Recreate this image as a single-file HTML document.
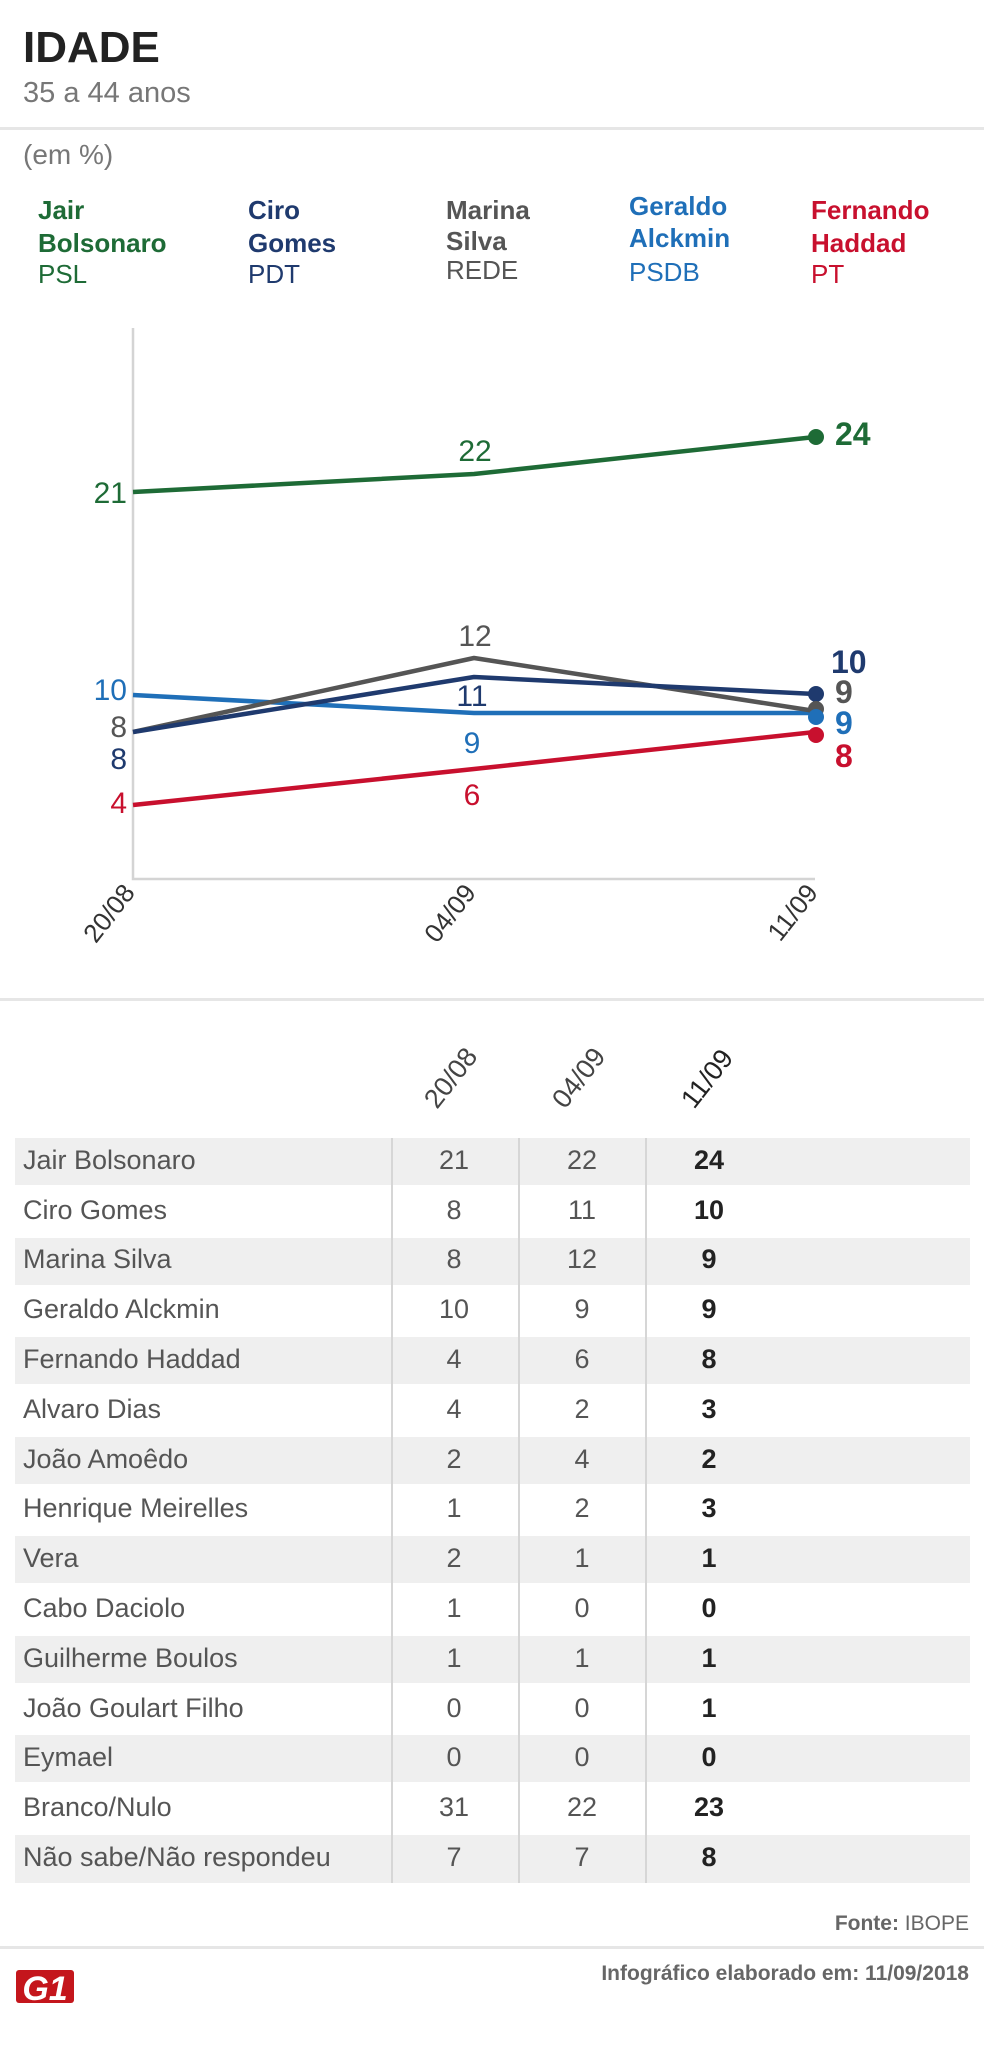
<!DOCTYPE html>
<html><head><meta charset="utf-8"><style>
body{margin:0;background:#fff}
svg{display:block;font-family:"Liberation Sans",sans-serif}
</style></head><body>
<svg width="984" height="2057" viewBox="0 0 984 2057" xmlns="http://www.w3.org/2000/svg">
<rect width="984" height="2057" fill="#fff"/>
<text x="23" y="62" font-size="44" font-weight="bold" fill="#222">IDADE</text>
<text x="23" y="102" font-size="29" fill="#777">35 a 44 anos</text>
<rect x="0" y="127" width="984" height="3" fill="#e6e6e6"/>
<text x="23" y="164" font-size="28" fill="#777">(em %)</text>
<g font-size="26" font-weight="bold">
<text x="38" y="219" fill="#1e6b36">Jair</text><text x="38" y="252" fill="#1e6b36">Bolsonaro</text>
<text x="248" y="219" fill="#1f3a6e">Ciro</text><text x="248" y="252" fill="#1f3a6e">Gomes</text>
<text x="446" y="219" fill="#555">Marina</text><text x="446" y="250" fill="#555">Silva</text>
<text x="629" y="215" fill="#1f6fb8">Geraldo</text><text x="629" y="247" fill="#1f6fb8">Alckmin</text>
<text x="811" y="219" fill="#c8102e">Fernando</text><text x="811" y="252" fill="#c8102e">Haddad</text>
</g>
<g font-size="26">
<text x="38" y="283" fill="#1e6b36">PSL</text>
<text x="248" y="283" fill="#1f3a6e">PDT</text>
<text x="446" y="279" fill="#555">REDE</text>
<text x="629" y="281" fill="#1f6fb8">PSDB</text>
<text x="811" y="283" fill="#c8102e">PT</text>
</g>
<path d="M133 328 V879 H815" fill="none" stroke="#d4d4d4" stroke-width="2.5"/>
<g fill="none" stroke-width="4.5" stroke-linejoin="round">
<polyline points="133,492 474,474 815,437" stroke="#1e6b36"/>
<polyline points="133,695 474,713 815,713" stroke="#1f6fb8"/>
<polyline points="133,732 474,658 815,711" stroke="#555"/>
<polyline points="133,732 474,677 815,694" stroke="#1f3a6e"/>
<polyline points="133,805 474,769 815,732" stroke="#c8102e"/>
</g>
<circle cx="816" cy="437" r="8" fill="#1e6b36"/>
<circle cx="816" cy="694" r="8" fill="#1f3a6e"/>
<circle cx="816" cy="709" r="8" fill="#555"/>
<circle cx="816" cy="717" r="8" fill="#1f6fb8"/>
<circle cx="816" cy="735" r="8" fill="#c8102e"/>
<g font-size="30" text-anchor="end">
<text x="127" y="503" fill="#1e6b36">21</text>
<text x="127" y="700" fill="#1f6fb8">10</text>
<text x="127" y="737" fill="#555">8</text>
<text x="127" y="769" fill="#1f3a6e">8</text>
<text x="127" y="813" fill="#c8102e">4</text>
</g>
<g font-size="30" text-anchor="middle">
<text x="475" y="461" fill="#1e6b36">22</text>
<text x="475" y="646" fill="#555">12</text>
<text x="472" y="706" fill="#1f3a6e">11</text>
<text x="472" y="753" fill="#1f6fb8">9</text>
<text x="472" y="805" fill="#c8102e">6</text>
</g>
<g font-size="32" font-weight="bold">
<text x="835" y="445" fill="#1e6b36">24</text>
<text x="831" y="673" fill="#1f3a6e">10</text>
<text x="835" y="703" fill="#555">9</text>
<text x="835" y="734" fill="#1f6fb8">9</text>
<text x="835" y="767" fill="#c8102e">8</text>
</g>
<g font-size="26" fill="#333" text-anchor="end">
<text transform="translate(136,893) rotate(-52)">20/08</text>
<text transform="translate(477,893) rotate(-52)">04/09</text>
<text transform="translate(819,893) rotate(-52)">11/09</text>
</g>
<rect x="0" y="998" width="984" height="3" fill="#e6e6e6"/>
<g font-size="27" fill="#444">
<text transform="translate(437,1110) rotate(-52)">20/08</text>
<text transform="translate(565,1110) rotate(-52)">04/09</text>
<text transform="translate(694,1110) rotate(-52)" fill="#222">11/09</text>
</g>
<g fill="#efefef">
<rect x="15" y="1138" width="955" height="47"/>
<rect x="15" y="1238" width="955" height="47"/>
<rect x="15" y="1337" width="955" height="47"/>
<rect x="15" y="1437" width="955" height="47"/>
<rect x="15" y="1536" width="955" height="47"/>
<rect x="15" y="1636" width="955" height="47"/>
<rect x="15" y="1735" width="955" height="47"/>
<rect x="15" y="1835" width="955" height="48"/>
</g>
<g stroke="#d6d6d6" stroke-width="2">
<line x1="392" y1="1138" x2="392" y2="1883"/>
<line x1="519" y1="1138" x2="519" y2="1883"/>
<line x1="646" y1="1138" x2="646" y2="1883"/>
</g>
<g font-size="27" fill="#555">
<text x="23" y="1169">Jair Bolsonaro</text>
<text x="23" y="1219">Ciro Gomes</text>
<text x="23" y="1268">Marina Silva</text>
<text x="23" y="1318">Geraldo Alckmin</text>
<text x="23" y="1368">Fernando Haddad</text>
<text x="23" y="1418">Alvaro Dias</text>
<text x="23" y="1468">João Amoêdo</text>
<text x="23" y="1517">Henrique Meirelles</text>
<text x="23" y="1567">Vera</text>
<text x="23" y="1617">Cabo Daciolo</text>
<text x="23" y="1667">Guilherme Boulos</text>
<text x="23" y="1717">João Goulart Filho</text>
<text x="23" y="1766">Eymael</text>
<text x="23" y="1816">Branco/Nulo</text>
<text x="23" y="1866">Não sabe/Não respondeu</text>
</g>
<g font-size="27" fill="#555" text-anchor="middle">
<text x="454" y="1169">21</text><text x="582" y="1169">22</text>
<text x="454" y="1219">8</text><text x="582" y="1219">11</text>
<text x="454" y="1268">8</text><text x="582" y="1268">12</text>
<text x="454" y="1318">10</text><text x="582" y="1318">9</text>
<text x="454" y="1368">4</text><text x="582" y="1368">6</text>
<text x="454" y="1418">4</text><text x="582" y="1418">2</text>
<text x="454" y="1468">2</text><text x="582" y="1468">4</text>
<text x="454" y="1517">1</text><text x="582" y="1517">2</text>
<text x="454" y="1567">2</text><text x="582" y="1567">1</text>
<text x="454" y="1617">1</text><text x="582" y="1617">0</text>
<text x="454" y="1667">1</text><text x="582" y="1667">1</text>
<text x="454" y="1717">0</text><text x="582" y="1717">0</text>
<text x="454" y="1766">0</text><text x="582" y="1766">0</text>
<text x="454" y="1816">31</text><text x="582" y="1816">22</text>
<text x="454" y="1866">7</text><text x="582" y="1866">7</text>
</g>
<g font-size="27" fill="#222" font-weight="bold" text-anchor="middle">
<text x="709" y="1169">24</text>
<text x="709" y="1219">10</text>
<text x="709" y="1268">9</text>
<text x="709" y="1318">9</text>
<text x="709" y="1368">8</text>
<text x="709" y="1418">3</text>
<text x="709" y="1468">2</text>
<text x="709" y="1517">3</text>
<text x="709" y="1567">1</text>
<text x="709" y="1617">0</text>
<text x="709" y="1667">1</text>
<text x="709" y="1717">1</text>
<text x="709" y="1766">0</text>
<text x="709" y="1816">23</text>
<text x="709" y="1866">8</text>
</g>
<text x="969" y="1930" font-size="21" fill="#666" text-anchor="end"><tspan font-weight="bold">Fonte:</tspan> IBOPE</text>
<rect x="0" y="1946" width="984" height="3" fill="#e6e6e6"/>
<text x="969" y="1980" font-size="21" fill="#666" text-anchor="end" font-weight="bold">Infográfico elaborado em: 11/09/2018</text>
<g>
<rect x="16" y="1970" width="58" height="33" rx="3" fill="#c4161c"/>
<text x="45" y="2000" font-size="34" font-weight="bold" fill="#fff" text-anchor="middle" font-style="italic">G1</text>
</g>
</svg>
</body></html>
